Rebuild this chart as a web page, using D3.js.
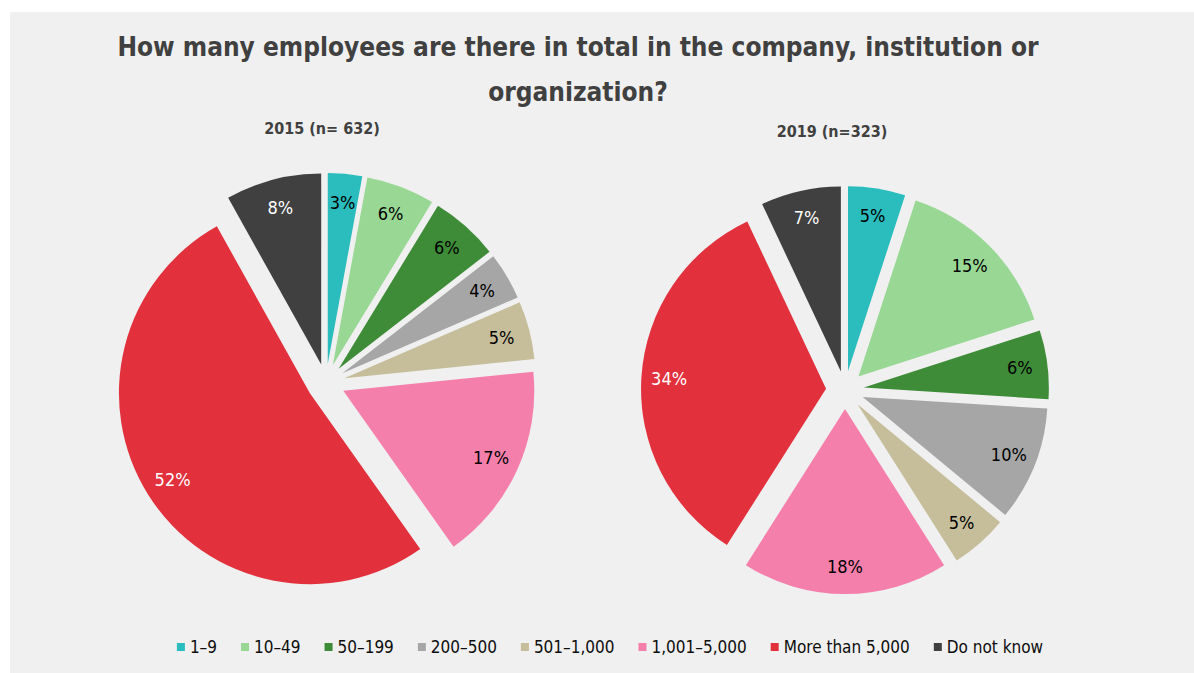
<!DOCTYPE html>
<html>
<head>
<meta charset="utf-8">
<script src="https://cdn.jsdelivr.net/npm/d3@7"></script>
<style>
    body { margin: 0; background: #ffffff; }
    svg { display: block; }
    text { font-family: "DejaVu Sans Condensed", "DejaVu Sans", sans-serif; }
</style>
</head>
<body>
<svg id="chart"></svg>
<script>
// categories shared by both pies
const categories = ["1–9", "10–49", "50–199", "200–500", "501–1,000", "1,001–5,000", "More than 5,000", "Do not know"]
const colors = ["#2bbdbd", "#98d794", "#3e8c37", "#a6a6a6", "#c6bd9a", "#f47fab", "#e2303d", "#404040"]
// values in percent
const values2015 = [2.9, 5.8, 5.8, 4.0, 4.9, 16.8, 51.7, 8.1]
const values2019 = [5, 15, 6, 10, 5, 18, 34, 7]
const titleLines = ["How many employees are there in total in the company, institution or", "organization?"]
const subtitles = ["2015 (n= 632)", "2019 (n=323)"]

const width = 1194, height = 673
const svg = d3.select("#chart").attr("width", width).attr("height", height)

svg.append("rect")
    .attr("x", 10).attr("y", 12)
    .attr("width", width - 10).attr("height", height - 12)
    .attr("fill", "#f0f0f0")

// title
svg.append("g").selectAll("text").data(titleLines).enter().append("text")
    .attr("x", 578)
    .attr("y", (d, i) => 56 + i * 45)
    .attr("text-anchor", "middle")
    .attr("font-size", 26)
    .attr("font-weight", "bold")
    .attr("fill", "#404040")
    .text(d => d)

const pies = [
    { values: values2015, cx: 326, cy: 383, r: 191, sub: subtitles[0], sx: 322, sy: 134 },
    { values: values2019, cx: 845, cy: 390, r: 185, sub: subtitles[1], sx: 832, sy: 137 }
]
const explode = 19
const darkLabels = [6, 7]

const pie = d3.pie().sort(null).value(d => d)

function drawPie(p) {
    let g = svg.append("g").attr("transform", `translate(${p.cx},${p.cy})`)
    let arcs = pie(p.values)
    let arc = d3.arc().innerRadius(0).outerRadius(p.r)
    let labelArc = d3.arc().innerRadius(p.r * 0.85).outerRadius(p.r * 0.85)

    let slices = g.selectAll(".slice").data(arcs).enter().append("g")
        .attr("class", "slice")
        .attr("transform", d => {
            let a = (d.startAngle + d.endAngle) / 2
            return `translate(${Math.sin(a) * explode},${-Math.cos(a) * explode})`
        })

    slices.append("path")
        .attr("d", arc)
        .attr("fill", (d, i) => colors[i])

    slices.append("text")
        .attr("transform", d => `translate(${labelArc.centroid(d)})`)
        .attr("text-anchor", "middle")
        .attr("dy", "0.35em")
        .attr("font-size", 18)
        .attr("fill", (d, i) => darkLabels.includes(i) ? "#ffffff" : "#000000")
        .text(d => Math.round(d.data) + "%")

    svg.append("text")
        .attr("x", p.sx).attr("y", p.sy)
        .attr("text-anchor", "middle")
        .attr("font-size", 16)
        .attr("font-weight", "bold")
        .attr("fill", "#404040")
        .text(p.sub)
}

pies.forEach(drawPie)

// legend, centered under the pies
let legend = svg.append("g")
let items = legend.selectAll(".item").data(categories).enter().append("g").attr("class", "item")
items.append("rect")
    .attr("width", 8).attr("height", 8)
    .attr("y", -10)
    .attr("fill", (d, i) => colors[i])
items.append("text")
    .attr("x", 13)
    .attr("font-size", 17)
    .attr("fill", "#0d0d0d")
    .text(d => d)

let xPos = 0
items.each(function () {
    let w = this.getBBox().width
    d3.select(this).attr("transform", `translate(${xPos},0)`)
    xPos += w + 24
})
let total = xPos - 24
legend.attr("transform", `translate(${610 - total / 2},653)`)
</script>
</body>
</html>
